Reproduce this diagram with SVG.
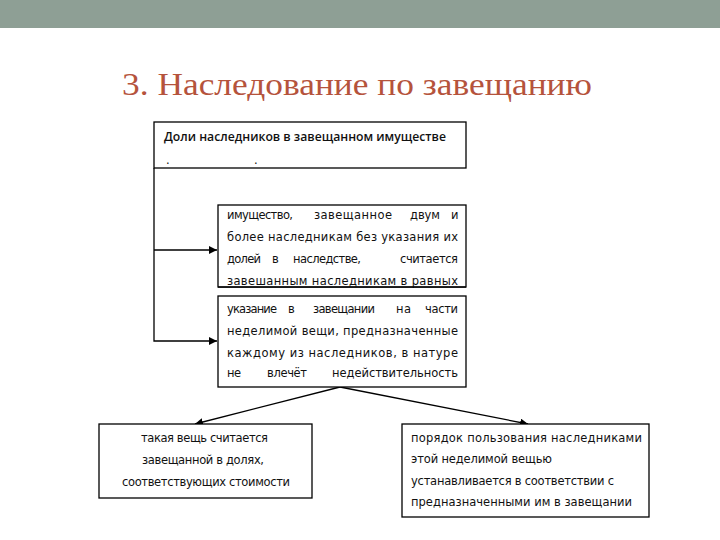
<svg xmlns="http://www.w3.org/2000/svg" width="720" height="540" viewBox="0 0 720 540">
<style>
.box{fill:#fff;stroke:#000;stroke-width:1.3}
.t{font-family:"DejaVu Sans","Liberation Sans",sans-serif;font-size:11.5px;fill:#111}
.tb{font-family:"Open Sans","DejaVu Sans",sans-serif;font-size:12.5px;font-weight:600;fill:#111}
.c{fill:none;stroke:#000;stroke-width:1.3}
.title{font-family:"Liberation Serif","DejaVu Serif",serif;font-size:32px;fill:#b5533c}
</style>
<defs>
<marker id="ah" viewBox="0 0 10 10" refX="10" refY="5" markerWidth="8" markerHeight="8" markerUnits="userSpaceOnUse" orient="auto">
<path d="M0,0 L10,5 L0,10 Z" fill="#000"/>
</marker>
</defs>
<rect x="0" y="0" width="720" height="540" fill="#fff"/>
<rect x="0" y="0" width="720" height="28" fill="#8e9f95"/>
<text class="title" x="122" y="95" textLength="470" lengthAdjust="spacingAndGlyphs">3. Наследование по завещанию</text>

<g id="connectors">
<path class="c" d="M154,168 V341 H217" marker-end="url(#ah)"/>
<path class="c" d="M154,250 H217" marker-end="url(#ah)"/>
<path class="c" d="M340,387 L195,424" marker-end="url(#ah)"/>
<path class="c" d="M340,387 L528,424" marker-end="url(#ah)"/>
</g>

<g id="node-shares">
<rect class="box" x="154" y="122" width="312" height="46"/>
<text class="tb" x="164" y="141" textLength="282" lengthAdjust="spacingAndGlyphs">Доли наследников в завещанном имуществе</text>
<text class="t" x="166" y="164">.</text>
<text class="t" x="254" y="164">.</text>
</g>

<g id="node-equal">
<rect class="box" x="218" y="205" width="248" height="82"/>
<text class="t" x="227" y="219" textLength="66" lengthAdjust="spacing">имущество,</text>
<text class="t" x="314" y="219" textLength="78" lengthAdjust="spacing">завещанное</text>
<text class="t" x="410" y="219" textLength="30" lengthAdjust="spacing">двум</text>
<text class="t" x="451" y="219">и</text>
<text class="t" x="227" y="241" textLength="231" lengthAdjust="spacing">более наследникам без указания их</text>
<text class="t" x="227" y="263" textLength="34" lengthAdjust="spacing">долей</text>
<text class="t" x="272" y="263">в</text>
<text class="t" x="293" y="263" textLength="68" lengthAdjust="spacing">наследстве,</text>
<text class="t" x="400" y="263" textLength="58" lengthAdjust="spacing">считается</text>
<text class="t" x="227" y="285" textLength="231" lengthAdjust="spacing">завешанным наследникам в равных</text>
<rect x="218" y="286.4" width="248" height="1.3" fill="#000"/>
</g>

<g id="node-parts">
<rect class="box" x="218" y="296" width="248" height="91"/>
<text class="t" x="227" y="313" textLength="50" lengthAdjust="spacing">указание</text>
<text class="t" x="288" y="313">в</text>
<text class="t" x="313" y="313" textLength="62" lengthAdjust="spacing">завещании</text>
<text class="t" x="396" y="313" textLength="15" lengthAdjust="spacing">на</text>
<text class="t" x="425" y="313" textLength="33" lengthAdjust="spacing">части</text>
<text class="t" x="227" y="335" textLength="231" lengthAdjust="spacing">неделимой вещи, предназначенные</text>
<text class="t" x="227" y="357" textLength="231" lengthAdjust="spacing">каждому из наследников, в натуре</text>
<text class="t" x="227" y="377" textLength="14" lengthAdjust="spacing">не</text>
<text class="t" x="267" y="377" textLength="40" lengthAdjust="spacing">влечёт</text>
<text class="t" x="332" y="377" textLength="126" lengthAdjust="spacing">недействительность</text>
</g>

<g id="node-shares-value">
<rect class="box" x="99" y="424" width="213" height="74"/>
<text class="t" x="141" y="442" textLength="127" lengthAdjust="spacing">такая вещь считается</text>
<text class="t" x="142" y="464" textLength="122" lengthAdjust="spacing">завещанной в долях,</text>
<text class="t" x="122" y="486" textLength="168" lengthAdjust="spacing">соответствующих стоимости</text>
</g>

<g id="node-usage">
<rect class="box" x="402" y="424" width="247" height="93"/>
<text class="t" x="411" y="442" textLength="231" lengthAdjust="spacing">порядок пользования наследниками</text>
<text class="t" x="411" y="463" textLength="141" lengthAdjust="spacing">этой неделимой вещью</text>
<text class="t" x="411" y="485" textLength="203" lengthAdjust="spacing">устанавливается в соответствии с</text>
<text class="t" x="411" y="506" textLength="221" lengthAdjust="spacing">предназначенными им в завещании</text>
</g>
</svg>
